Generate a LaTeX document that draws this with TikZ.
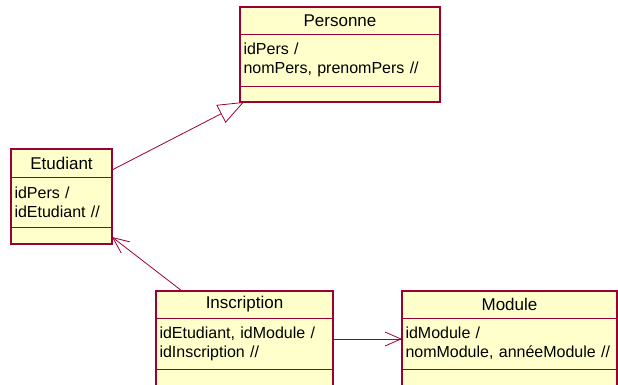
\documentclass[tikz,border=0pt]{standalone}
\usepackage{fontspec}
\setmainfont{Liberation Sans}
\usepackage{tikz}
\usetikzlibrary{arrows.meta, positioning}
\usepackage{xcolor}
\definecolor{umlfill}{HTML}{FFFFCC}
\definecolor{umlline}{HTML}{990033}

\tikzset{
  classpart/.style={draw=umlline, fill=umlfill, line width=0.8pt, anchor=north west, inner sep=0pt, outer sep=0pt},
  classhead/.style={classpart, font=\fontsize{17}{20}\selectfont},
  classattr/.style={classpart, align=left, inner xsep=3.5pt, font=\fontsize{16}{19}\selectfont},
  classframe/.style={draw=umlline, line width=1.4pt},
  assoc/.style={draw=umlline, line width=0.8pt}
}

\begin{document}
\begin{tikzpicture}[x=1pt, y=-1pt]
                \useasboundingbox (0,0) rectangle (618,385);
                \clip (0,0) rectangle (618,385);

                % 1. Personne
                \node[classhead, minimum width=200pt, minimum height=27pt] (perHead) at (240,7) {Personne};
                \node[classattr, text width=193pt, minimum height=52pt, below=0pt of perHead] (perAttr) {idPers /\\nomPers, prenomPers //};
                \node[classpart, minimum width=200pt, minimum height=16pt, below=0pt of perAttr] (perMeth) {};
                \draw[classframe] (perHead.north west) rectangle (perMeth.south east);

                % 2. Etudiant
                \node[classhead, minimum width=101pt, minimum height=28pt] (etuHead) at (11,149) {Etudiant};
                \node[classattr, text width=94pt, minimum height=50pt, below=0pt of etuHead] (etuAttr) {idPers /\\idEtudiant //};
                \node[classpart, minimum width=101pt, minimum height=17pt, below=0pt of etuAttr] (etuMeth) {};
                \draw[classframe] (etuHead.north west) rectangle (etuMeth.south east);

                % 3. Inscription
                \node[classhead, minimum width=177pt, minimum height=27pt] (insHead) at (156,291) {Inscription};
                \node[classattr, text width=170pt, minimum height=51pt, below=0pt of insHead] (insAttr) {idEtudiant, idModule /\\idInscription //};
                \node[classpart, minimum width=177pt, minimum height=30pt, below=0pt of insAttr] (insMeth) {};
                \draw[classframe] (insHead.north west) rectangle (insMeth.south east);

                % 4. Module
                \node[classhead, minimum width=215pt, minimum height=27pt] (modHead) at (402,291) {Module};
                \node[classattr, text width=208pt, minimum height=51pt, below=0pt of modHead] (modAttr) {idModule /\\nomModule, annéeModule //};
                \node[classpart, minimum width=215pt, minimum height=30pt, below=0pt of modAttr] (modMeth) {};
                \draw[classframe] (modHead.north west) rectangle (modMeth.south east);

                % 5. Links
                \draw[assoc, -{Triangle[open, length=26pt, width=20pt]}] ([yshift=-7pt]etuHead.east) -- ([xshift=4pt]perMeth.south west);
                \draw[assoc, -{Straight Barb[length=16pt, width=14pt]}] ([xshift=26pt]insHead.north west) -- ([yshift=-1.5pt]etuMeth.east);
                \draw[assoc, -{Straight Barb[length=16pt, width=14pt]}] ([yshift=4.5pt]insAttr.east) -- ([yshift=4.5pt]modAttr.west);
            \end{tikzpicture}
\end{document}
